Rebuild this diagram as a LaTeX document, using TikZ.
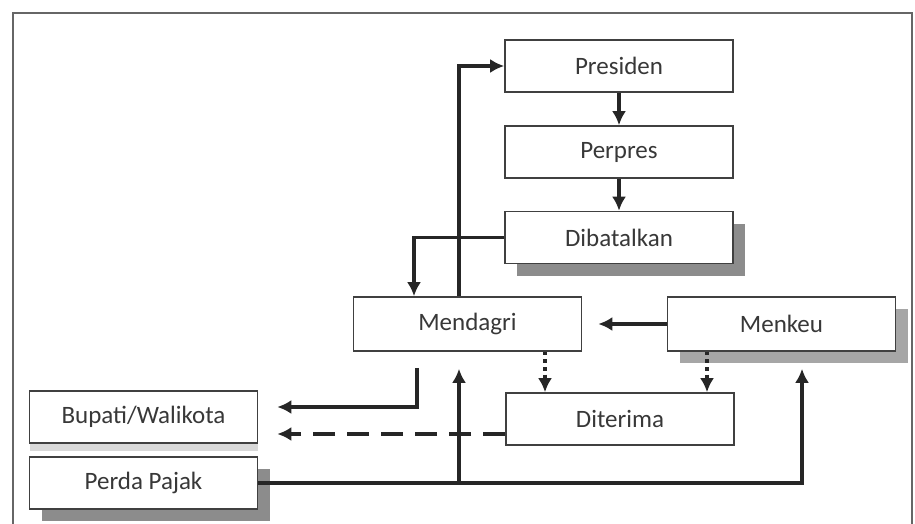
\documentclass[tikz,border=0pt]{standalone}
\usepackage{fontspec}
\setmainfont{Carlito}
\usetikzlibrary{calc,arrows.meta,shadows}
\tikzset{
	kotak/.style={draw=black!75, line width=0.8pt, fill=white, minimum width=114pt, minimum height=26pt, inner sep=0pt, text=black!78, font=\fontsize{12.5}{15}\selectfont},
	bayang/.style={kotak, drop shadow={shadow xshift=6pt, shadow yshift=-6pt, fill=black!45, opacity=1}},
	bayangtipis/.style={kotak, drop shadow={shadow xshift=0pt, shadow yshift=-4pt, fill=black!15, opacity=1}},
	panah/.style={draw=black!85, line width=1.8pt, -{Latex[length=7pt,width=7pt]}},
}

\begin{document}
\begin{tikzpicture}[x=0.5pt, y=-0.5pt]
		%%%%% START %%%%%
		\useasboundingbox (0, 0) rectangle (915, 524);
		
		\draw[line width=1pt, color=black!60] (13, 524) -- (13, 13) -- (912, 13) -- (912, 524);
		
		\node[kotak] (pres) at (619, 66) {Presiden};
		\node[kotak] (perp) at (619, 152) {Perpres};
		\node[bayang] (dib) at (619, 237.5) {Dibatalkan};
		\node[kotak, minimum height=27pt] (mend) at (467.5, 324) {Mendagri};
		\node[bayang, minimum height=27pt, drop shadow={shadow xshift=6pt, shadow yshift=-6pt, fill=black!35, opacity=1}] (menk) at (781.5, 324) {Menkeu};
		\node[kotak] (dit) at (620, 419) {Diterima};
		\node[bayangtipis] (bup) at (143.5, 417) {Bupati/Walikota};
		\node[bayang] (perd) at (143.5, 483) {Perda Pajak};
		
		\draw[panah] (pres) -- (perp);
		\draw[panah] (perp) -- (dib);
		\draw[panah] (dib.west) -| ($(mend.north)+(-53.5, 0)$);
		\draw[panah] ($(mend.north)+(-8.5, 0)$) |- (pres.west);
		\draw[panah, shorten >=8pt] (menk.west) -- (mend.east);
		
		\coordinate (t1) at ($(mend.south)+(77.5, 0)$);
		\coordinate (t2) at ($(menk.south)+(-74.5, 0)$);
		\draw[panah, dotted] (t1) -- (t1 |- dit.north);
		\draw[panah, dotted] (t2) -- (t2 |- dit.north);
		
		\draw[panah, shorten >=9.5pt] ($(mend.south)+(-50.5, 16)$) |- ($(bup.east)+(0, -10)$);
		\coordinate (t3) at ($(dit.west)+(0, 15)$);
		\draw[panah, dash pattern=on 11pt off 6pt, shorten >=9.5pt] (t3) -- (t3 -| bup.east);
		
		\draw[panah, shorten >=8.5pt] (perd.east) -| ($(mend.south)+(-8.5, 0)$);
		\draw[panah, shorten >=8.5pt] (perd.east) -| ($(menk.south)+(20.5, 0)$);
		
		%%%%% END %%%%%
	\end{tikzpicture}
\end{document}
